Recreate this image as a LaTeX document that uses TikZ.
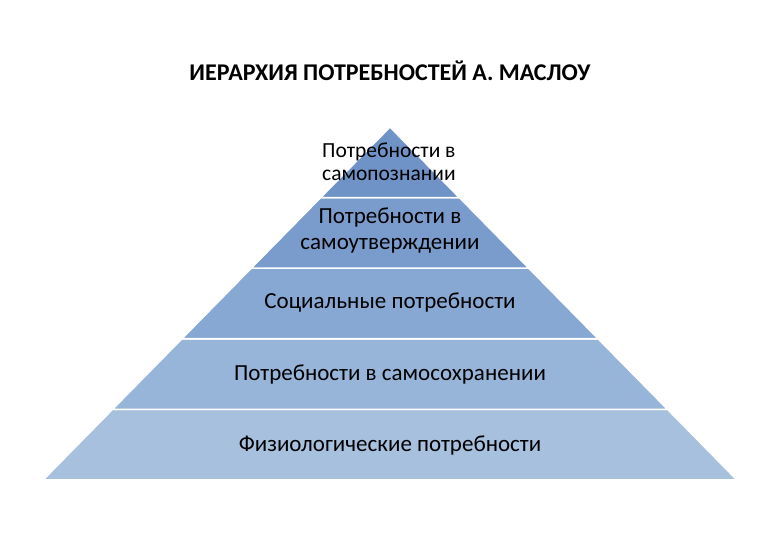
\documentclass[tikz,border=0pt]{standalone}
\usepackage{fontspec}
\setmainfont{Carlito}
\definecolor{lA}{RGB}{112,147,199}
\definecolor{lB}{RGB}{121,156,204}
\definecolor{lC}{RGB}{135,168,211}
\definecolor{lD}{RGB}{150,181,217}
\definecolor{lE}{RGB}{167,192,222}
\begin{document}
\begin{tikzpicture}[x=1pt,y=-1pt,
  layer/.style={draw=white,line width=1.6pt,line join=round},
  lbl/.style={font=\fontsize{23}{26}\selectfont,text=black,align=center,inner sep=0pt}]
\useasboundingbox (0,0) rectangle (780,540);
\fill[white] (0,0) rectangle (780,540);
\node[font=\bfseries\fontsize{24}{28}\selectfont,inner sep=0pt] (title) at (390,71) {ИЕРАРХИЯ ПОТРЕБНОСТЕЙ А. МАСЛОУ};
\filldraw[layer,fill=lE] (43,480) -- (737,480) -- (667.6,409.4) -- (112.4,409.4) -- cycle;
\filldraw[layer,fill=lD] (112.4,409.4) -- (667.6,409.4) -- (598.2,338.8) -- (181.8,338.8) -- cycle;
\filldraw[layer,fill=lC] (181.8,338.8) -- (598.2,338.8) -- (528.8,268.2) -- (251.2,268.2) -- cycle;
\filldraw[layer,fill=lB] (251.2,268.2) -- (528.8,268.2) -- (459.4,197.6) -- (320.6,197.6) -- cycle;
\filldraw[layer,fill=lA] (320.6,197.6) -- (459.4,197.6) -- (390,127) -- cycle;
\node[lbl,font=\fontsize{21.5}{22.5}\selectfont,align=left,anchor=west] (t1) at (322,162) {Потребности в\\самопознании};
\node[lbl] (t2) at (390,231) {Потребности в\\самоутверждении};
\node[lbl] (t3) at (390,303) {Социальные потребности};
\node[lbl] (t4) at (390,375) {Потребности в самосохранении};
\node[lbl] (t5) at (390,446) {Физиологические потребности};
\end{tikzpicture}
\end{document}
